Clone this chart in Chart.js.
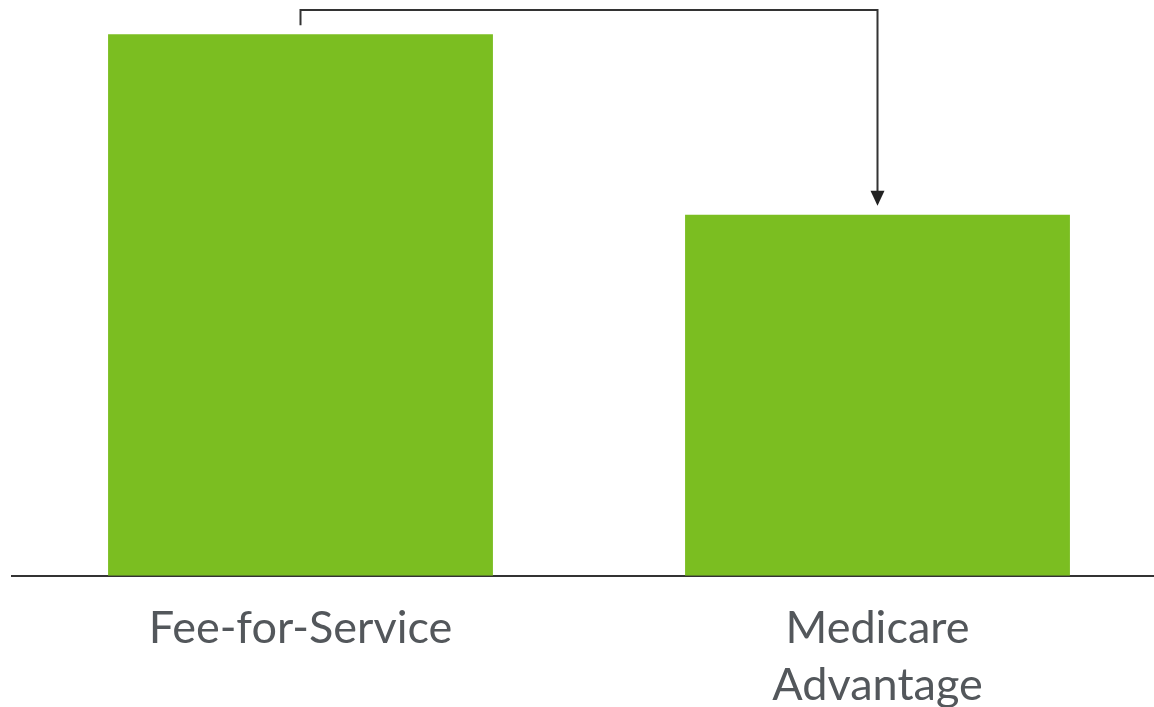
<!DOCTYPE html>
<html>
<head>
<meta charset="utf-8">
<script src="https://cdn.jsdelivr.net/npm/chart.js@4.4.1/dist/chart.umd.min.js"></script>
<style>
  html, body { margin: 0; padding: 0; background: #fff; overflow: hidden; }
  #wrap { width: 1154px; height: 707px; overflow: hidden; }
</style>
</head>
<body>
<div id="wrap"><canvas id="payChart" width="1166" height="730"></canvas></div>
<script>
const categories = [['Fee-for-Service'], ['Medicare', 'Advantage']];
const values = [15, 10];
const yMax = 15.7;

// Elbow arrow from first bar to second bar
const connectorPlugin = {
    id: 'connector',
    afterDatasetsDraw(chart) {
        const bars = chart.getDatasetMeta(0).data;
        const a = bars[0], b = bars[1];
        const top = chart.chartArea.top + 1;
        const gap = 9;
        const ctx = chart.ctx;
        ctx.save();
        ctx.strokeStyle = '#333333';
        ctx.fillStyle = '#222222';
        ctx.lineWidth = 2;
        ctx.beginPath();
        ctx.moveTo(a.x, a.y - gap);
        ctx.lineTo(a.x, top);
        ctx.lineTo(b.x, top);
        ctx.lineTo(b.x, b.y - gap - 12);
        ctx.stroke();
        ctx.beginPath();
        ctx.moveTo(b.x - 7, b.y - gap - 15);
        ctx.lineTo(b.x + 7, b.y - gap - 15);
        ctx.lineTo(b.x, b.y - gap);
        ctx.closePath();
        ctx.fill();
        ctx.restore();
    }
};

const ctx = document.getElementById('payChart').getContext('2d');
new Chart(ctx, {
    type: 'bar',
    data: {
        labels: categories,
        datasets: [{
            data: values,
            backgroundColor: '#7BBE21',
            barPercentage: 1,
            categoryPercentage: 0.667
        }]
    },
    options: {
        responsive: false,
        animation: false,
        layout: { padding: { left: 12, top: 9, right: 0, bottom: 0 } },
        plugins: {
            legend: { display: false },
            tooltip: { enabled: false }
        },
        scales: {
            x: {
                grid: { display: false },
                border: { display: true, color: '#333333', width: 2 },
                ticks: {
                    color: '#53575b',
                    padding: 16,
                    maxRotation: 0,
                    font: { family: 'Lato', size: 45, lineHeight: 1.27 }
                }
            },
            y: {
                display: false,
                min: 0,
                max: yMax
            }
        }
    },
    plugins: [connectorPlugin]
});
</script>
</body>
</html>
